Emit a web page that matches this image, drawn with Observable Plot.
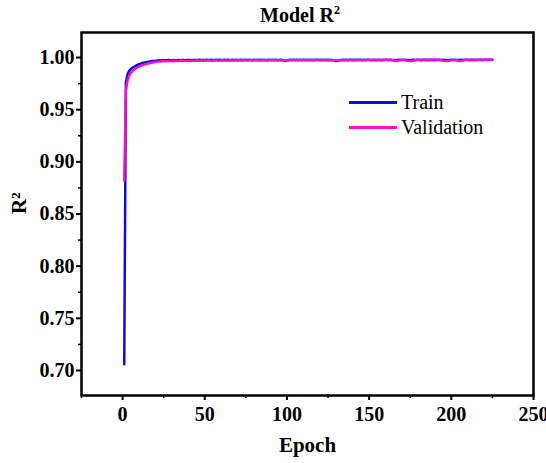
<!DOCTYPE html>
<html>
<head>
<meta charset="utf-8">
<script src="https://cdn.jsdelivr.net/npm/d3@7"></script>
<script src="https://cdn.jsdelivr.net/npm/@observablehq/plot@0.6"></script>
<style>
  html, body { margin: 0; padding: 0; background: #fff; }
  #wrap { position: relative; width: 546px; height: 463px; overflow: hidden; font-family: "Liberation Serif", "Times New Roman", serif; }
  #title { height: 26px; width: 546px; box-sizing: border-box; padding-left: 54px; text-align: center; font-weight: bold; font-size: 20px; line-height: 30px; }
  #title sup { font-size: 12px; line-height: 0; vertical-align: 8px; }
  #legend { position: absolute; left: 349px; top: 90px; font-size: 20px; }
  .item { display: flex; align-items: center; height: 25px; }
  .sw { width: 48px; height: 3px; margin-right: 4px; }
  #chart svg text { font-family: "Liberation Serif", "Times New Roman", serif; }
</style>
</head>
<body>
<div id="wrap">
  <div id="title">Model R<sup>2</sup></div>
  <div id="chart"></div>
  <div id="legend"></div>
</div>
<script>
const seriesNames = ["Train", "Validation"];
const seriesColors = ["#0c0ce0", "#f512c8"];

const trainR2 = [
  0.706, 0.976, 0.984, 0.9872, 0.9890, 0.9902, 0.9912, 0.9921, 0.9929, 0.9936, 0.9942, 0.9947, 0.9951, 0.9955, 0.9958,
  0.9961, 0.9964, 0.9966, 0.9968, 0.9970, 0.9971, 0.9973, 0.9972, 0.9974, 0.9975, 0.9974, 0.9975, 0.9976, 0.9974, 0.9975,
  0.9976, 0.9975, 0.9974, 0.9976, 0.9975, 0.9976, 0.9977, 0.9975, 0.9976, 0.9977, 0.9976, 0.9975, 0.9977, 0.9976, 0.9977,
  0.9976, 0.9978, 0.9977, 0.9976, 0.9977, 0.9978, 0.9976, 0.9977, 0.9978, 0.9977, 0.9976, 0.9978, 0.9977, 0.9978, 0.9977,
  0.9976, 0.9978, 0.9977, 0.9978, 0.9977, 0.9976, 0.9978, 0.9977, 0.9978, 0.9976, 0.9977, 0.9978, 0.9977, 0.9976, 0.9978,
  0.9977, 0.9978, 0.9977, 0.9976, 0.9978, 0.9977, 0.9978, 0.9977, 0.9979, 0.9977, 0.9978, 0.9976, 0.9977, 0.9978, 0.9977,
  0.9978, 0.9977, 0.9978, 0.9976, 0.9977, 0.9978, 0.9976, 0.9972, 0.9966, 0.9974, 0.9977, 0.9978, 0.9977, 0.9978, 0.9977,
  0.9978, 0.9977, 0.9979, 0.9977, 0.9978, 0.9977, 0.9978, 0.9976, 0.9978, 0.9977, 0.9978, 0.9977, 0.9978, 0.9979, 0.9977,
  0.9978, 0.9977, 0.9978, 0.9977, 0.9978, 0.9976, 0.9977, 0.9975, 0.9971, 0.9966, 0.9968, 0.9974, 0.9977, 0.9978, 0.9977,
  0.9978, 0.9977, 0.9978, 0.9979, 0.9977, 0.9978, 0.9977, 0.9978, 0.9976, 0.9978, 0.9977, 0.9978, 0.9977, 0.9979, 0.9978,
  0.9977, 0.9978, 0.9977, 0.9978, 0.9976, 0.9978, 0.9977, 0.9978, 0.9977, 0.9978, 0.9979, 0.9977, 0.9978, 0.9977, 0.9976,
  0.9974, 0.9977, 0.9978, 0.9977, 0.9978, 0.9977, 0.9978, 0.9977, 0.9976, 0.9975, 0.9977, 0.9978, 0.9977, 0.9978, 0.9979,
  0.9977, 0.9978, 0.9977, 0.9978, 0.9977, 0.9978, 0.9976, 0.9978, 0.9977, 0.9978, 0.9977, 0.9978, 0.9979, 0.9977, 0.9978,
  0.9977, 0.9976, 0.9975, 0.9977, 0.9978, 0.9977, 0.9978, 0.9977, 0.9976, 0.9977, 0.9978, 0.9977, 0.9978, 0.9979, 0.9978,
  0.9977, 0.9978, 0.9977, 0.9978, 0.9977, 0.9978, 0.9979, 0.9978, 0.9977, 0.9978, 0.9979, 0.9978, 0.9979, 0.9978, 0.9979
];

const validationR2 = [
  0.882, 0.968, 0.978, 0.9825, 0.9852, 0.9870, 0.9884, 0.9895, 0.9905, 0.9913, 0.9920, 0.9926, 0.9932, 0.9937, 0.9941,
  0.9945, 0.9948, 0.9951, 0.9954, 0.9957, 0.9959, 0.9961, 0.9962, 0.9964, 0.9965, 0.9966, 0.9965, 0.9966, 0.9967, 0.9966,
  0.9969, 0.9967, 0.9968, 0.9966, 0.9968, 0.9969, 0.9967, 0.9968, 0.9970, 0.9968, 0.9969, 0.9967, 0.9970, 0.9969, 0.9971,
  0.9969, 0.9970, 0.9972, 0.9970, 0.9971, 0.9969, 0.9972, 0.9971, 0.9970, 0.9972, 0.9971, 0.9973, 0.9970, 0.9972, 0.9971,
  0.9973, 0.9971, 0.9972, 0.9970, 0.9973, 0.9972, 0.9971, 0.9974, 0.9972, 0.9973, 0.9971, 0.9974, 0.9972, 0.9973, 0.9975,
  0.9972, 0.9974, 0.9973, 0.9971, 0.9974, 0.9973, 0.9975, 0.9972, 0.9974, 0.9973, 0.9975, 0.9974, 0.9972, 0.9975, 0.9974,
  0.9973, 0.9975, 0.9974, 0.9972, 0.9975, 0.9974, 0.9973, 0.9975, 0.9972, 0.9974, 0.9975, 0.9973, 0.9974, 0.9976, 0.9974,
  0.9975, 0.9973, 0.9975, 0.9974, 0.9976, 0.9974, 0.9975, 0.9973, 0.9976, 0.9974, 0.9975, 0.9976, 0.9974, 0.9975, 0.9973,
  0.9976, 0.9975, 0.9974, 0.9976, 0.9975, 0.9973, 0.9976, 0.9975, 0.9974, 0.9976, 0.9975, 0.9974, 0.9976, 0.9975, 0.9977,
  0.9975, 0.9974, 0.9976, 0.9975, 0.9977, 0.9974, 0.9976, 0.9975, 0.9977, 0.9976, 0.9974, 0.9977, 0.9975, 0.9976, 0.9977,
  0.9975, 0.9977, 0.9976, 0.9974, 0.9977, 0.9976, 0.9975, 0.9977, 0.9976, 0.9978, 0.9975, 0.9977, 0.9976, 0.9974, 0.9972,
  0.9969, 0.9966, 0.9971, 0.9975, 0.9977, 0.9976, 0.9974, 0.9971, 0.9968, 0.9967, 0.9966, 0.9971, 0.9975, 0.9977, 0.9976,
  0.9977, 0.9975, 0.9978, 0.9976, 0.9977, 0.9975, 0.9978, 0.9976, 0.9977, 0.9978, 0.9976, 0.9977, 0.9975, 0.9973, 0.9971,
  0.9968, 0.9966, 0.9967, 0.9972, 0.9975, 0.9977, 0.9976, 0.9974, 0.9971, 0.9967, 0.9966, 0.9972, 0.9976, 0.9977, 0.9978,
  0.9976, 0.9977, 0.9978, 0.9976, 0.9977, 0.9978, 0.9976, 0.9977, 0.9978, 0.9977, 0.9979, 0.9977, 0.9978, 0.9979, 0.9978
];

const xTicks = [0, 50, 100, 150, 200, 250];
const xMinorTicks = [-25, 25, 75, 125, 175, 225];
const yTicks = [0.70, 0.75, 0.80, 0.85, 0.90, 0.95, 1.00];
const yMinorTicks = [0.725, 0.775, 0.825, 0.875, 0.925, 0.975];

const rows = [];
trainR2.forEach((v, i) => rows.push({epoch: i + 1, r2: v, series: "Train"}));
validationR2.forEach((v, i) => rows.push({epoch: i + 1, r2: v, series: "Validation"}));

const serif = "'Liberation Serif', 'Times New Roman', serif";

const chart = Plot.plot({
  width: 546,
  height: 437,
  marginTop: 6,
  marginLeft: 81,
  marginRight: 13,
  marginBottom: 68,
  style: {fontFamily: serif, fontWeight: "bold", fontSize: "20px", background: "white", color: "black", overflow: "visible"},
  x: {domain: [-25, 250]},
  y: {domain: [0.676, 1.024]},
  color: {domain: seriesNames, range: seriesColors},
  marks: [
    Plot.line(rows, {x: "epoch", y: "r2", z: "series", stroke: "series", strokeWidth: 2.5, clip: true}),
    Plot.axisX({ticks: xTicks, tickSize: 5, tickPadding: 6, tickFormat: d => String(d), label: null, strokeWidth: 2, fontSize: 20, fontWeight: "bold", fontFamily: serif}),
    Plot.axisX({ticks: xMinorTicks, tickSize: 3, tickFormat: () => "", label: null, strokeWidth: 1.5}),
    Plot.axisY({ticks: yTicks, tickSize: 5, tickPadding: 2, tickFormat: d3.format(".2f"), label: null, strokeWidth: 2, fontSize: 20, fontWeight: "bold", fontFamily: serif}),
    Plot.axisY({ticks: yMinorTicks, tickSize: 3, tickFormat: () => "", label: null, strokeWidth: 1.5}),
    Plot.frame({stroke: "black", strokeWidth: 2.5}),
    Plot.text(["Epoch"], {text: d => d, frameAnchor: "bottom", dy: 56, fontSize: 21, fontWeight: "bold", fontFamily: serif}),
    Plot.text(["R²"], {text: d => d, frameAnchor: "left", dx: -62, rotate: -90, fontSize: 21, fontWeight: "bold", fontFamily: serif})
  ]
});
document.getElementById("chart").appendChild(chart);

const legend = document.getElementById("legend");
seriesNames.forEach((name, i) => {
  const item = document.createElement("div");
  item.className = "item";
  const sw = document.createElement("div");
  sw.className = "sw";
  sw.style.background = seriesColors[i];
  const label = document.createElement("span");
  label.textContent = name;
  item.appendChild(sw);
  item.appendChild(label);
  legend.appendChild(item);
});
</script>
</body>
</html>
